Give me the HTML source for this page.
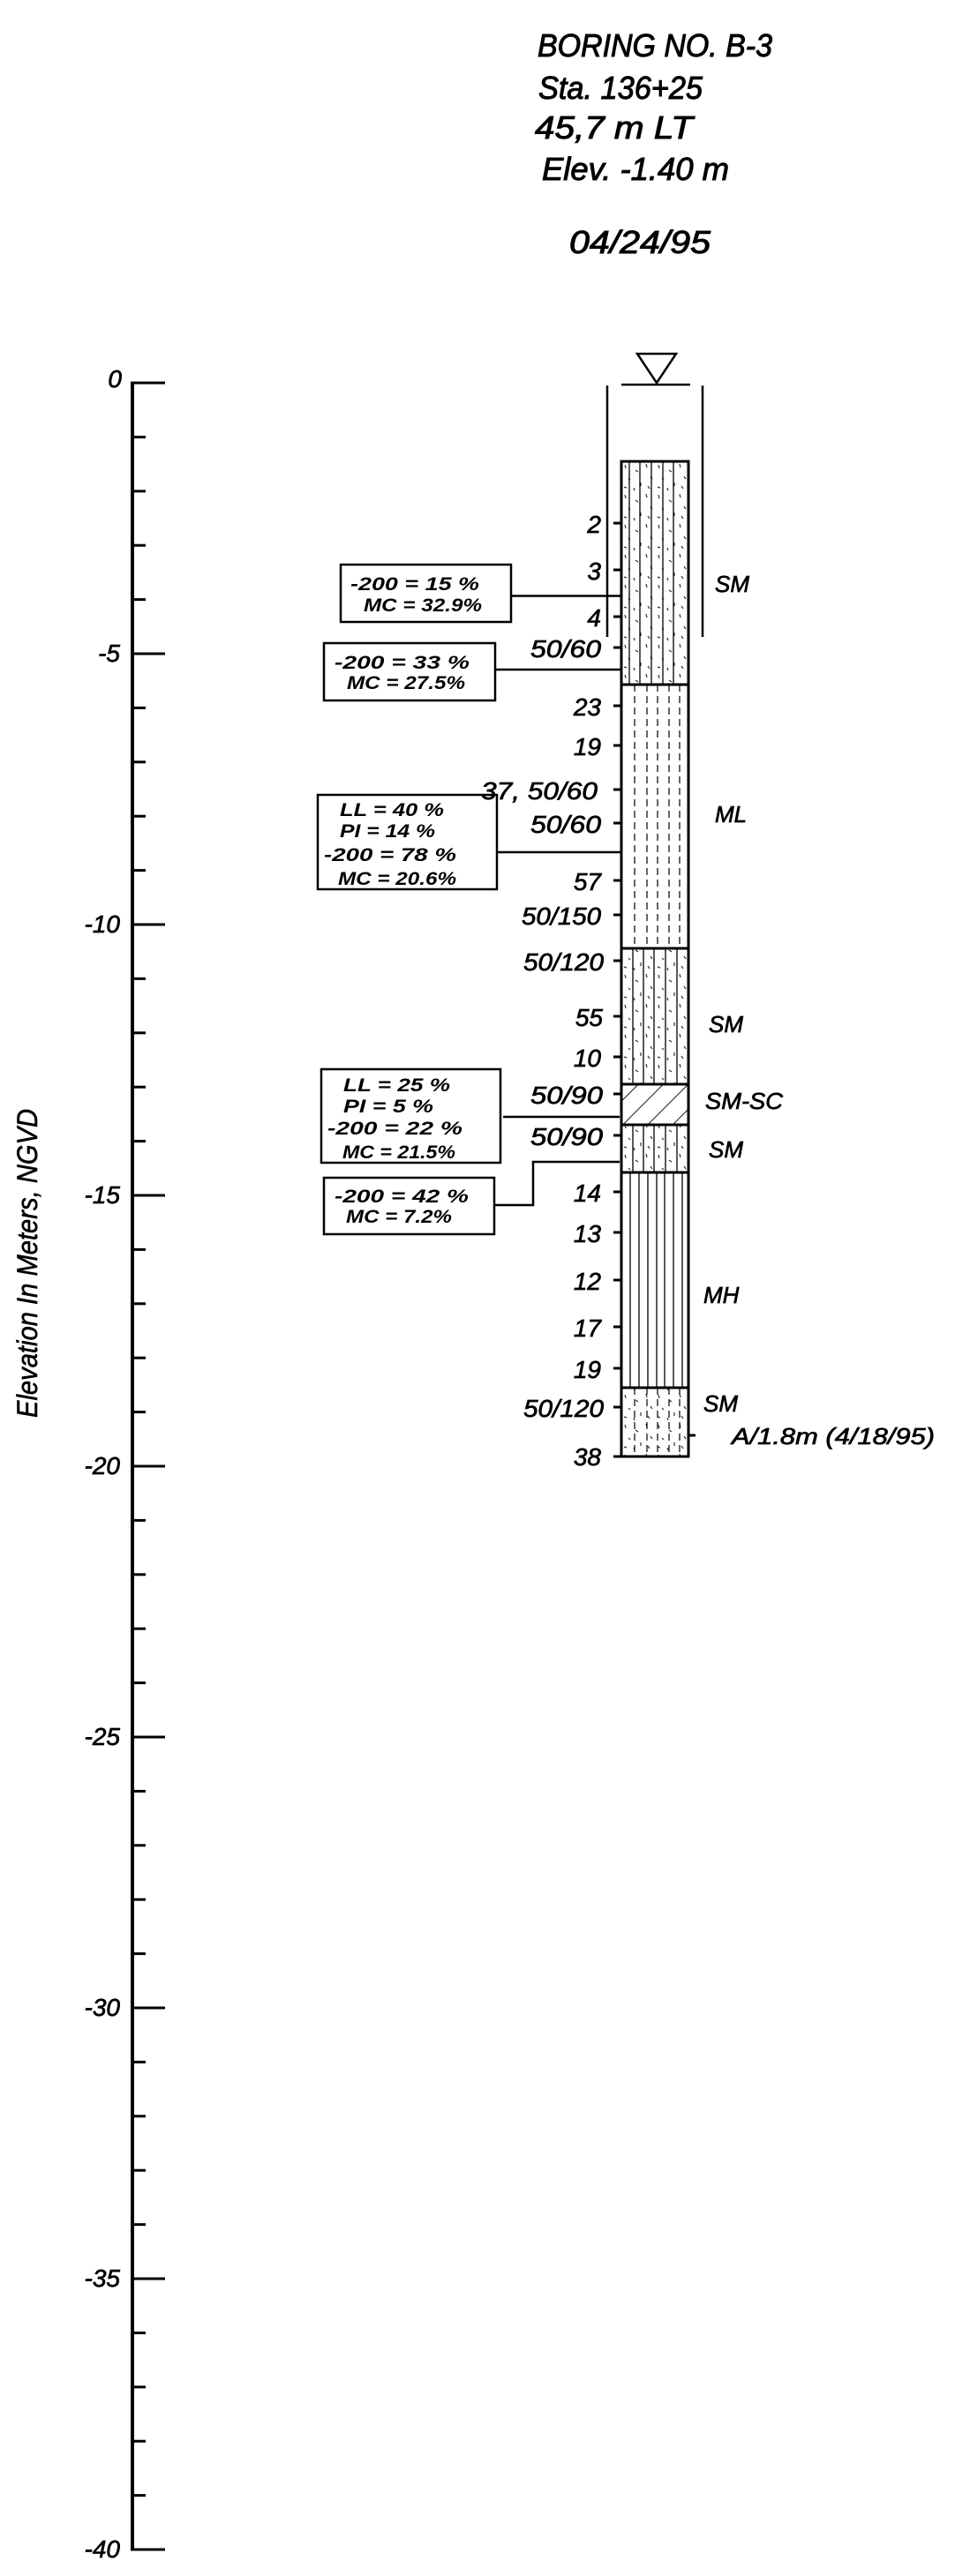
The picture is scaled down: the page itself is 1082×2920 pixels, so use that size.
<!DOCTYPE html>
<html><head><meta charset="utf-8"><style>
html,body{margin:0;padding:0;background:#fff;}
svg{display:block;}
text{font-family:"Liberation Sans",sans-serif;font-style:italic;fill:#000;}
.t{font-size:36px;stroke:#000;stroke-width:1;}
.n{font-size:28px;text-anchor:end;stroke:#000;stroke-width:0.7;}
.s{font-size:26px;stroke:#000;stroke-width:0.7;}
.b{font-size:21px;font-weight:bold;}
.a{font-size:28px;text-anchor:end;stroke:#000;stroke-width:0.7;}
.r{stroke:#000;stroke-width:0.6;}
</style></head><body>
<svg width="1082" height="2920" viewBox="0 0 1082 2920" xmlns="http://www.w3.org/2000/svg">
<defs>
<pattern id="dots" width="38" height="34" patternUnits="userSpaceOnUse" x="704" y="523">
<g stroke="#333" stroke-width="1.2">
<line x1="4" y1="4" x2="5" y2="8"/><line x1="16" y1="10" x2="19" y2="12"/><line x1="28" y1="3" x2="29" y2="7"/>
<line x1="8" y1="19" x2="10" y2="21"/><line x1="22" y1="24" x2="22" y2="28"/><line x1="33" y1="17" x2="35" y2="20"/>
<line x1="3" y1="29" x2="6" y2="30"/><line x1="14" y1="30" x2="15" y2="33"/><line x1="30" y1="28" x2="32" y2="31"/>
</g>
</pattern>
<pattern id="hatch" width="20" height="20" patternUnits="userSpaceOnUse" patternTransform="rotate(45)">
<line x1="0" y1="0" x2="0" y2="20" stroke="#000" stroke-width="1.8"/>
</pattern>
</defs>

<text class="t" x="609" y="64" textLength="266" lengthAdjust="spacingAndGlyphs">BORING NO. B-3</text>
<text class="t" x="610" y="112" textLength="186" lengthAdjust="spacingAndGlyphs">Sta. 136+25</text>
<text class="t" x="606" y="157" textLength="179" lengthAdjust="spacingAndGlyphs">45,7 m LT</text>
<text class="t" x="614" y="204" textLength="212" lengthAdjust="spacingAndGlyphs">Elev. -1.40 m</text>
<text class="t" x="645" y="287" textLength="160" lengthAdjust="spacingAndGlyphs">04/24/95</text>

<line x1="150" y1="434" x2="150" y2="2890" stroke="#000" stroke-width="4"/>
<g stroke="#000" stroke-width="3">
<line x1="148" y1="434" x2="187" y2="434"/><line x1="150" y1="495.4" x2="165" y2="495.4"/><line x1="150" y1="556.8" x2="165" y2="556.8"/><line x1="150" y1="618.2" x2="165" y2="618.2"/><line x1="150" y1="679.6" x2="165" y2="679.6"/>
<line x1="150" y1="741" x2="187" y2="741"/><line x1="150" y1="802.4" x2="165" y2="802.4"/><line x1="150" y1="863.8" x2="165" y2="863.8"/><line x1="150" y1="925.2" x2="165" y2="925.2"/><line x1="150" y1="986.6" x2="165" y2="986.6"/>
<line x1="150" y1="1048" x2="187" y2="1048"/><line x1="150" y1="1109.4" x2="165" y2="1109.4"/><line x1="150" y1="1170.8" x2="165" y2="1170.8"/><line x1="150" y1="1232.2" x2="165" y2="1232.2"/><line x1="150" y1="1293.6" x2="165" y2="1293.6"/>
<line x1="150" y1="1355" x2="187" y2="1355"/><line x1="150" y1="1416.4" x2="165" y2="1416.4"/><line x1="150" y1="1477.8" x2="165" y2="1477.8"/><line x1="150" y1="1539.2" x2="165" y2="1539.2"/><line x1="150" y1="1600.6" x2="165" y2="1600.6"/>
<line x1="150" y1="1662" x2="187" y2="1662"/><line x1="150" y1="1723.4" x2="165" y2="1723.4"/><line x1="150" y1="1784.8" x2="165" y2="1784.8"/><line x1="150" y1="1846.2" x2="165" y2="1846.2"/><line x1="150" y1="1907.6" x2="165" y2="1907.6"/>
<line x1="150" y1="1969" x2="187" y2="1969"/><line x1="150" y1="2030.4" x2="165" y2="2030.4"/><line x1="150" y1="2091.8" x2="165" y2="2091.8"/><line x1="150" y1="2153.2" x2="165" y2="2153.2"/><line x1="150" y1="2214.6" x2="165" y2="2214.6"/>
<line x1="150" y1="2276" x2="187" y2="2276"/><line x1="150" y1="2337.4" x2="165" y2="2337.4"/><line x1="150" y1="2398.8" x2="165" y2="2398.8"/><line x1="150" y1="2460.2" x2="165" y2="2460.2"/><line x1="150" y1="2521.6" x2="165" y2="2521.6"/>
<line x1="150" y1="2583" x2="187" y2="2583"/><line x1="150" y1="2644.4" x2="165" y2="2644.4"/><line x1="150" y1="2705.8" x2="165" y2="2705.8"/><line x1="150" y1="2767.2" x2="165" y2="2767.2"/><line x1="150" y1="2828.6" x2="165" y2="2828.6"/>
<line x1="148" y1="2890" x2="187" y2="2890"/>
</g>
<text class="a" x="138" y="439">0</text>
<text class="a" x="136" y="750">-5</text>
<text class="a" x="136" y="1057">-10</text>
<text class="a" x="136" y="1364">-15</text>
<text class="a" x="136" y="1671">-20</text>
<text class="a" x="136" y="1978">-25</text>
<text class="a" x="136" y="2285">-30</text>
<text class="a" x="136" y="2592">-35</text>
<text class="a" x="136" y="2899">-40</text>
<text class="r" x="42" y="1607" font-size="32" transform="rotate(-90 42 1607)" textLength="350" lengthAdjust="spacingAndGlyphs">Elevation In Meters, NGVD</text>

<polygon points="722,401 766,401 744,434" fill="none" stroke="#000" stroke-width="2.5"/>
<line x1="704" y1="436" x2="782" y2="436" stroke="#000" stroke-width="2.5"/>
<line x1="688" y1="437" x2="688" y2="722" stroke="#000" stroke-width="2.5"/>
<line x1="796" y1="437" x2="796" y2="722" stroke="#000" stroke-width="2.5"/>

<rect x="704" y="523" width="76" height="1128" fill="#fff"/>
<rect x="704" y="523" width="76" height="253" fill="url(#dots)"/>
<g stroke="#000" stroke-width="1.3">
<line x1="713" y1="523" x2="713" y2="776"/><line x1="725" y1="523" x2="725" y2="776"/><line x1="738" y1="523" x2="738" y2="776"/><line x1="751" y1="523" x2="751" y2="776"/><line x1="763" y1="523" x2="763" y2="776"/>
</g>
<g stroke="#000" stroke-width="1.2" stroke-dasharray="8,5">
<line x1="719" y1="776" x2="719" y2="1075"/><line x1="733" y1="776" x2="733" y2="1075"/><line x1="745" y1="776" x2="745" y2="1075"/><line x1="758" y1="776" x2="758" y2="1075"/><line x1="770" y1="776" x2="770" y2="1075"/>
</g>
<rect x="704" y="1075" width="76" height="154" fill="url(#dots)"/>
<g stroke="#000" stroke-width="1.3">
<line x1="717" y1="1075" x2="717" y2="1229"/><line x1="729" y1="1075" x2="729" y2="1229"/><line x1="741" y1="1075" x2="741" y2="1229"/><line x1="754" y1="1075" x2="754" y2="1229"/><line x1="767" y1="1075" x2="767" y2="1229"/>
</g>
<rect x="704" y="1229" width="76" height="46" fill="url(#hatch)"/>
<rect x="704" y="1275" width="76" height="54" fill="url(#dots)"/>
<g stroke="#000" stroke-width="1.3">
<line x1="717" y1="1275" x2="717" y2="1329"/><line x1="729" y1="1275" x2="729" y2="1329"/><line x1="741" y1="1275" x2="741" y2="1329"/><line x1="754" y1="1275" x2="754" y2="1329"/><line x1="767" y1="1275" x2="767" y2="1329"/>
</g>
<g stroke="#000" stroke-width="1.3">
<line x1="714" y1="1329" x2="714" y2="1573"/><line x1="724" y1="1329" x2="724" y2="1573"/><line x1="734" y1="1329" x2="734" y2="1573"/><line x1="744" y1="1329" x2="744" y2="1573"/><line x1="753" y1="1329" x2="753" y2="1573"/><line x1="763" y1="1329" x2="763" y2="1573"/><line x1="773" y1="1329" x2="773" y2="1573"/>
</g>
<rect x="704" y="1573" width="76" height="78" fill="url(#dots)"/>
<g stroke="#000" stroke-width="1.2" stroke-dasharray="8,5">
<line x1="719" y1="1573" x2="719" y2="1651"/><line x1="733" y1="1573" x2="733" y2="1651"/><line x1="745" y1="1573" x2="745" y2="1651"/><line x1="758" y1="1573" x2="758" y2="1651"/><line x1="770" y1="1573" x2="770" y2="1651"/>
</g>
<rect x="704" y="523" width="76" height="1128" fill="none" stroke="#000" stroke-width="3"/>
<g stroke="#000" stroke-width="3">
<line x1="704" y1="776" x2="780" y2="776"/><line x1="704" y1="1075" x2="780" y2="1075"/><line x1="704" y1="1229" x2="780" y2="1229"/><line x1="704" y1="1275" x2="780" y2="1275"/><line x1="704" y1="1329" x2="780" y2="1329"/><line x1="704" y1="1573" x2="780" y2="1573"/>
<line x1="780" y1="1627" x2="788" y2="1627"/>
</g>

<g stroke="#000" stroke-width="3">
<line x1="695" y1="593" x2="704" y2="593"/><line x1="695" y1="646" x2="704" y2="646"/><line x1="695" y1="699" x2="704" y2="699"/><line x1="695" y1="734" x2="704" y2="734"/>
<line x1="695" y1="800" x2="704" y2="800"/><line x1="695" y1="845" x2="704" y2="845"/><line x1="695" y1="895" x2="704" y2="895"/><line x1="695" y1="933" x2="704" y2="933"/>
<line x1="695" y1="998" x2="704" y2="998"/><line x1="695" y1="1037" x2="704" y2="1037"/><line x1="695" y1="1089" x2="704" y2="1089"/><line x1="695" y1="1152" x2="704" y2="1152"/>
<line x1="695" y1="1198" x2="704" y2="1198"/><line x1="695" y1="1240" x2="704" y2="1240"/><line x1="695" y1="1287" x2="704" y2="1287"/><line x1="695" y1="1351" x2="704" y2="1351"/>
<line x1="695" y1="1397" x2="704" y2="1397"/><line x1="695" y1="1451" x2="704" y2="1451"/><line x1="695" y1="1504" x2="704" y2="1504"/><line x1="695" y1="1551" x2="704" y2="1551"/>
<line x1="695" y1="1595" x2="704" y2="1595"/><line x1="695" y1="1651" x2="704" y2="1651"/>
</g>
<text class="n" x="681" y="604">2</text>
<text class="n" x="681" y="657">3</text>
<text class="n" x="681" y="710">4</text>
<text class="n" x="681" y="745" textLength="80" lengthAdjust="spacingAndGlyphs">50/60</text>
<text class="n" x="681" y="811">23</text>
<text class="n" x="681" y="856">19</text>
<text class="n" x="677" y="906" textLength="132" lengthAdjust="spacingAndGlyphs">37, 50/60</text>
<text class="n" x="681" y="944" textLength="80" lengthAdjust="spacingAndGlyphs">50/60</text>
<text class="n" x="681" y="1009">57</text>
<text class="n" x="681" y="1048" textLength="90" lengthAdjust="spacingAndGlyphs">50/150</text>
<text class="n" x="684" y="1100" textLength="91" lengthAdjust="spacingAndGlyphs">50/120</text>
<text class="n" x="683" y="1163">55</text>
<text class="n" x="681" y="1209">10</text>
<text class="n" x="683" y="1251" textLength="82" lengthAdjust="spacingAndGlyphs">50/90</text>
<text class="n" x="683" y="1298" textLength="82" lengthAdjust="spacingAndGlyphs">50/90</text>
<text class="n" x="681" y="1362">14</text>
<text class="n" x="681" y="1408">13</text>
<text class="n" x="681" y="1462">12</text>
<text class="n" x="681" y="1515">17</text>
<text class="n" x="681" y="1562">19</text>
<text class="n" x="684" y="1606" textLength="91" lengthAdjust="spacingAndGlyphs">50/120</text>
<text class="n" x="681" y="1661">38</text>

<text class="s" x="810" y="671">SM</text>
<text class="s" x="810" y="932">ML</text>
<text class="s" x="803" y="1170">SM</text>
<text class="s" x="799" y="1257" textLength="88" lengthAdjust="spacingAndGlyphs">SM-SC</text>
<text class="s" x="803" y="1312">SM</text>
<text class="s" x="797" y="1477">MH</text>
<text class="s" x="797" y="1600">SM</text>
<text class="s" x="829" y="1637" font-size="24" textLength="230" lengthAdjust="spacingAndGlyphs">A/1.8m (4/18/95)</text>

<g fill="none" stroke="#000" stroke-width="2.5">
<rect x="386" y="640" width="193" height="65"/>
<line x1="579" y1="675.5" x2="704" y2="675.5"/>
<rect x="367" y="729" width="194" height="65"/>
<line x1="561" y1="759" x2="704" y2="759"/>
<rect x="360" y="901" width="203" height="107"/>
<line x1="563" y1="966" x2="704" y2="966"/>
<rect x="364" y="1212" width="203" height="106"/>
<line x1="570" y1="1266" x2="702" y2="1266"/>
<rect x="367" y="1335" width="193" height="64"/>
<polyline points="560,1366 604,1366 604,1317 702,1317"/>
</g>
<text class="b" x="397" y="669" textLength="146" lengthAdjust="spacingAndGlyphs">-200 = 15 %</text>
<text class="b" x="412" y="693" textLength="134" lengthAdjust="spacingAndGlyphs">MC = 32.9%</text>
<text class="b" x="379" y="758" textLength="153" lengthAdjust="spacingAndGlyphs">-200 = 33 %</text>
<text class="b" x="393" y="781" textLength="134" lengthAdjust="spacingAndGlyphs">MC = 27.5%</text>
<text class="b" x="385" y="925" textLength="118" lengthAdjust="spacingAndGlyphs">LL = 40 %</text>
<text class="b" x="385" y="949" textLength="108" lengthAdjust="spacingAndGlyphs">PI = 14 %</text>
<text class="b" x="367" y="976" textLength="150" lengthAdjust="spacingAndGlyphs">-200 = 78 %</text>
<text class="b" x="383" y="1003" textLength="134" lengthAdjust="spacingAndGlyphs">MC = 20.6%</text>
<text class="b" x="389" y="1237" textLength="121" lengthAdjust="spacingAndGlyphs">LL = 25 %</text>
<text class="b" x="389" y="1261" textLength="102" lengthAdjust="spacingAndGlyphs">PI = 5 %</text>
<text class="b" x="371" y="1286" textLength="153" lengthAdjust="spacingAndGlyphs">-200 = 22 %</text>
<text class="b" x="388" y="1313" textLength="128" lengthAdjust="spacingAndGlyphs">MC = 21.5%</text>
<text class="b" x="379" y="1363" textLength="152" lengthAdjust="spacingAndGlyphs">-200 = 42 %</text>
<text class="b" x="392" y="1386" textLength="120" lengthAdjust="spacingAndGlyphs">MC = 7.2%</text>
</svg>
</body></html>
